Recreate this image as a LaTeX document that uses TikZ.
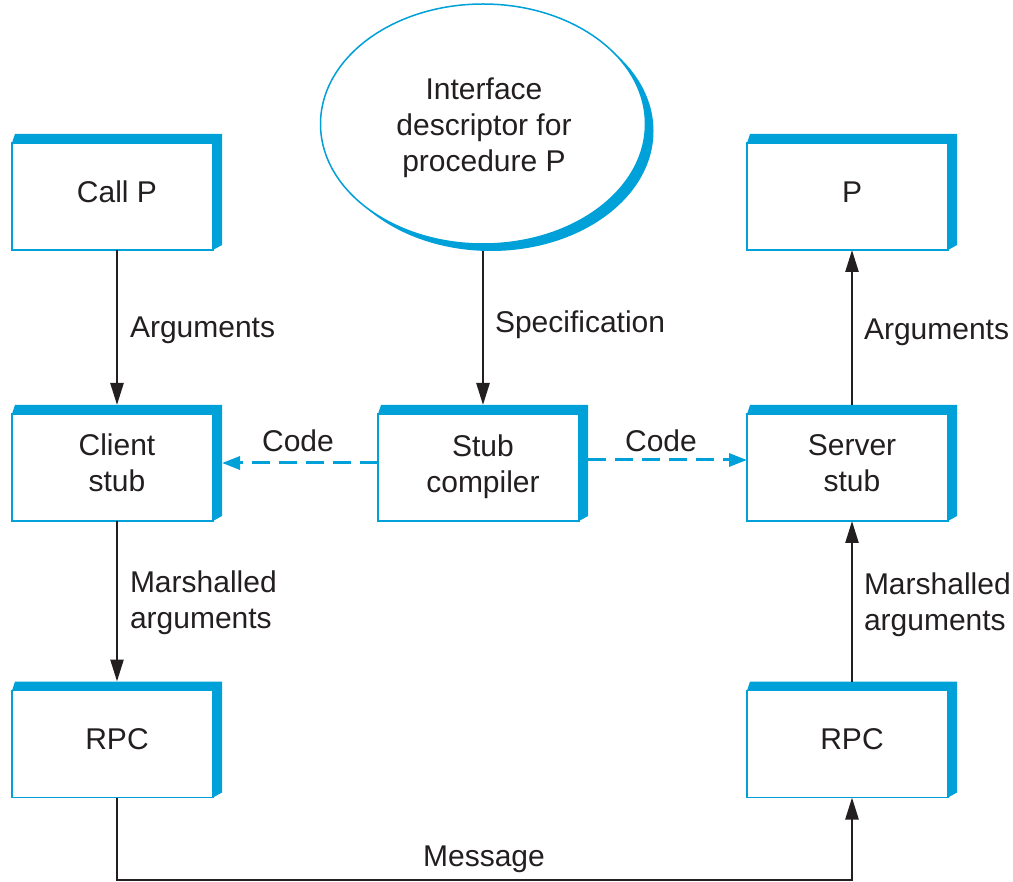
\documentclass[tikz,border=0pt]{standalone}
\usepackage{fontspec}
\setmainfont{Liberation Sans}
\usetikzlibrary{arrows.meta,calc,backgrounds,shapes.geometric}
\definecolor{rblue}{RGB}{0,160,216}
\definecolor{rink}{RGB}{35,31,32}
\begin{document}
\begin{tikzpicture}[x=1pt,y=-1pt,
  lbl/.style={font=\fontsize{30}{36}\selectfont, text=rink, inner sep=0pt, outer sep=0pt},
  boxnode/.style={lbl, minimum width=210pt, minimum height=116pt, align=center},
  arr/.style={draw=rink, line width=2.5pt, -{Triangle[length=22pt,width=13pt]}},
  codearr/.style={draw=rblue, line width=3pt, dash pattern=on 18pt off 9pt, -{Triangle[length=18pt,width=13pt]}},
]
\useasboundingbox (0,0) rectangle (1013,882);

% boxes
\node[boxnode] (callp) at (117,192) {Call P};
\node[boxnode] (cstub) at (117,463) {Client\\stub};
\node[boxnode] (crpc)  at (117,739.5) {RPC};
\node[boxnode] (comp)  at (483,463) {\rule{0pt}{28.5pt}Stub\\compiler};
\node[boxnode] (p)     at (852,192) {P};
\node[boxnode] (sstub) at (852,463) {Server\\stub};
\node[boxnode] (srpc)  at (852,739.5) {RPC};

% ellipse
\node[ellipse, draw=rblue, line width=1.5pt, fill=white, minimum width=325pt,
      minimum height=240pt, inner sep=0pt, outer sep=0pt] (iface) at (483,124) {};
\node[lbl, align=center] (ifacetext) at (484,128) {Interface\\descriptor for\\procedure P};

\begin{scope}[on background layer]
  \fill[rblue] ($(iface.center)+(8,7)$) ellipse [x radius=162.5, y radius=120];
  \foreach \n in {callp,cstub,crpc,comp,p,sstub,srpc}{
    \fill[rblue] ($(\n.north west)+(0,9)$) -- ($(\n.north west)+(3,0)$) -- (\n.north east)
      -- ($(\n.south east)+(0,-5)$) -- ($(\n.south east)+(-9,0)$) -- cycle;
    \draw[rblue, line width=1.5pt, fill=white] ($(\n.north west)+(0,9)$) rectangle ($(\n.south east)+(-9,0)$);
  }
\end{scope}

% connectors
\draw[arr] (callp.south) -- (cstub.north);
\draw[arr] ($(iface.south)+(0,7)$) -- (comp.north);
\draw[arr] (sstub.north) -- (p.south);
\draw[arr] (cstub.south) -- (crpc.north);
\draw[arr] (srpc.north) -- (sstub.south);
\coordinate (mb) at (483,880);
\draw[arr] (crpc.south) |- (mb) -| (srpc.south);
\draw[codearr] (comp.west) -- (comp.west -| cstub.east);
\draw[codearr] ($(comp.east)+(0,-3)$) -- ($(comp.east -| sstub.west)+(0,-3)$);

% labels
\node[lbl, anchor=base west] (la1) at (130,338) {Arguments};
\node[lbl, anchor=base west] (lspec) at (495,333) {Specification};
\node[lbl, anchor=base west] (la2) at (864,340) {Arguments};
\node[lbl, anchor=north west, align=left] (lm1) at (130,571) {Marshalled\\arguments};
\node[lbl, anchor=north west, align=left] (lm2) at (864,573) {Marshalled\\arguments};
\node[lbl, anchor=base] (lc1) at (298,452) {Code};
\node[lbl, anchor=base] (lc2) at (661,452) {Code};
\node[lbl, anchor=base] (lmsg) at (484,866) {Message};
\end{tikzpicture}
\end{document}
